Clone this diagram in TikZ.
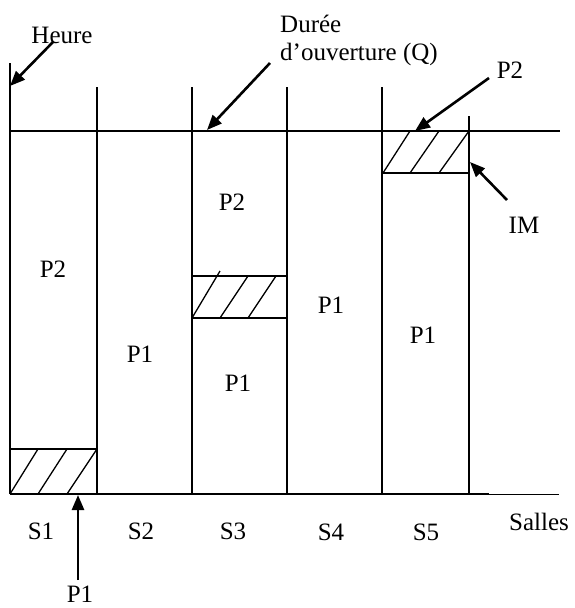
\documentclass[tikz,border=0pt]{standalone}
\usepackage{fontspec}
\setmainfont{Liberation Serif}
\usetikzlibrary{arrows.meta}
\begin{document}
\begin{tikzpicture}[x=1pt,y=-1pt,
  lbl/.style={font=\fontsize{25}{28}\selectfont, inner sep=0pt, anchor=base},
  gridline/.style={line width=1.6pt},
  thinline/.style={line width=1pt},
  hatch/.style={line width=1.3pt},
  ptr/.style={line width=2.6pt, -{Triangle[length=15pt,width=12pt]}}]
\useasboundingbox (0,0) rectangle (574,608);
% grid coordinates
\coordinate (v0t) at (10,63);  \coordinate (v0b) at (10,494);
\coordinate (v1t) at (97,87);  \coordinate (v1b) at (97,494);
\coordinate (v2t) at (192,87); \coordinate (v2b) at (192,494);
\coordinate (v3t) at (287,87); \coordinate (v3b) at (287,494);
\coordinate (v4t) at (382,87); \coordinate (v4b) at (382,494);
\coordinate (v5t) at (469,116);\coordinate (v5b) at (469,494);
\coordinate (qL) at (10,131);  \coordinate (qR) at (560,131);
\coordinate (bL) at (10,494);  \coordinate (bM) at (489,494); \coordinate (bR) at (559,494);
% lines
\draw[gridline] (v0t) -- (v0b);
\draw[gridline] (v1t) -- (v1b);
\draw[gridline] (v2t) -- (v2b);
\draw[gridline] (v3t) -- (v3b);
\draw[gridline] (v4t) -- (v4b);
\draw[gridline] (v5t) -- (v5b);
\draw[gridline] (qL) -- (qR);
\draw[gridline] (bL) -- (bM);
\draw[thinline] (bM) -- (bR);
% hatched boxes
\draw[hatch] (10,449) -- (97,449);
\draw[hatch] (10,494) -- (38,449) (38,494) -- (67,449) (67,494) -- (97,449);
\draw[hatch] (191,276) -- (287,276) (191,318) -- (287,318);
\draw[hatch] (192,318) -- (220,271) (220,318) -- (248,276) (248,318) -- (276,276);
\draw[hatch] (382,173) -- (469,173);
\draw[hatch] (383,173) -- (410,131) (410,173) -- (439,131) (439,173) -- (469,131);
% labels
\node[lbl] (heure) at (62,43) {Heure};
\node[lbl,anchor=base west] (duree) at (280,32) {Durée};
\node[lbl,anchor=base west] (ouv) at (280,60) {d’ouverture (Q)};
\node[lbl] (p2t) at (510,78) {P2};
\node[lbl] (im) at (524,233) {IM};
\node[lbl] (s1) at (41,539) {S1};
\node[lbl] (s2) at (141,539) {S2};
\node[lbl] (s3) at (233,539) {S3};
\node[lbl] (s4) at (331,540) {S4};
\node[lbl] (s5) at (426,540) {S5};
\node[lbl] (salles) at (539,530) {Salles};
\node[lbl] (p1b) at (80,602) {P1};
\node[lbl] (a) at (53,277) {P2};
\node[lbl] (b) at (140,362) {P1};
\node[lbl] (c) at (232,210) {P2};
\node[lbl] (d) at (238,391) {P1};
\node[lbl] (e) at (331,313) {P1};
\node[lbl] (f) at (423,343) {P1};
% arrows
\coordinate (h0) at (53,42);  \coordinate (h1) at (10,86);
\coordinate (d0) at (270,63); \coordinate (d1) at (207,130);
\coordinate (p0) at (489,78); \coordinate (p1) at (415,131);
\coordinate (i0) at (507,200);\coordinate (i1) at (470,162);
\coordinate (b0) at (78,580); \coordinate (b1) at (78,495);
\draw[ptr] (h0) -- (h1);
\draw[ptr] (d0) -- (d1);
\draw[ptr] (p0) -- (p1);
\draw[ptr] (i0) -- (i1);
\draw[ptr] (b0) -- (b1);
\end{tikzpicture}
\end{document}
